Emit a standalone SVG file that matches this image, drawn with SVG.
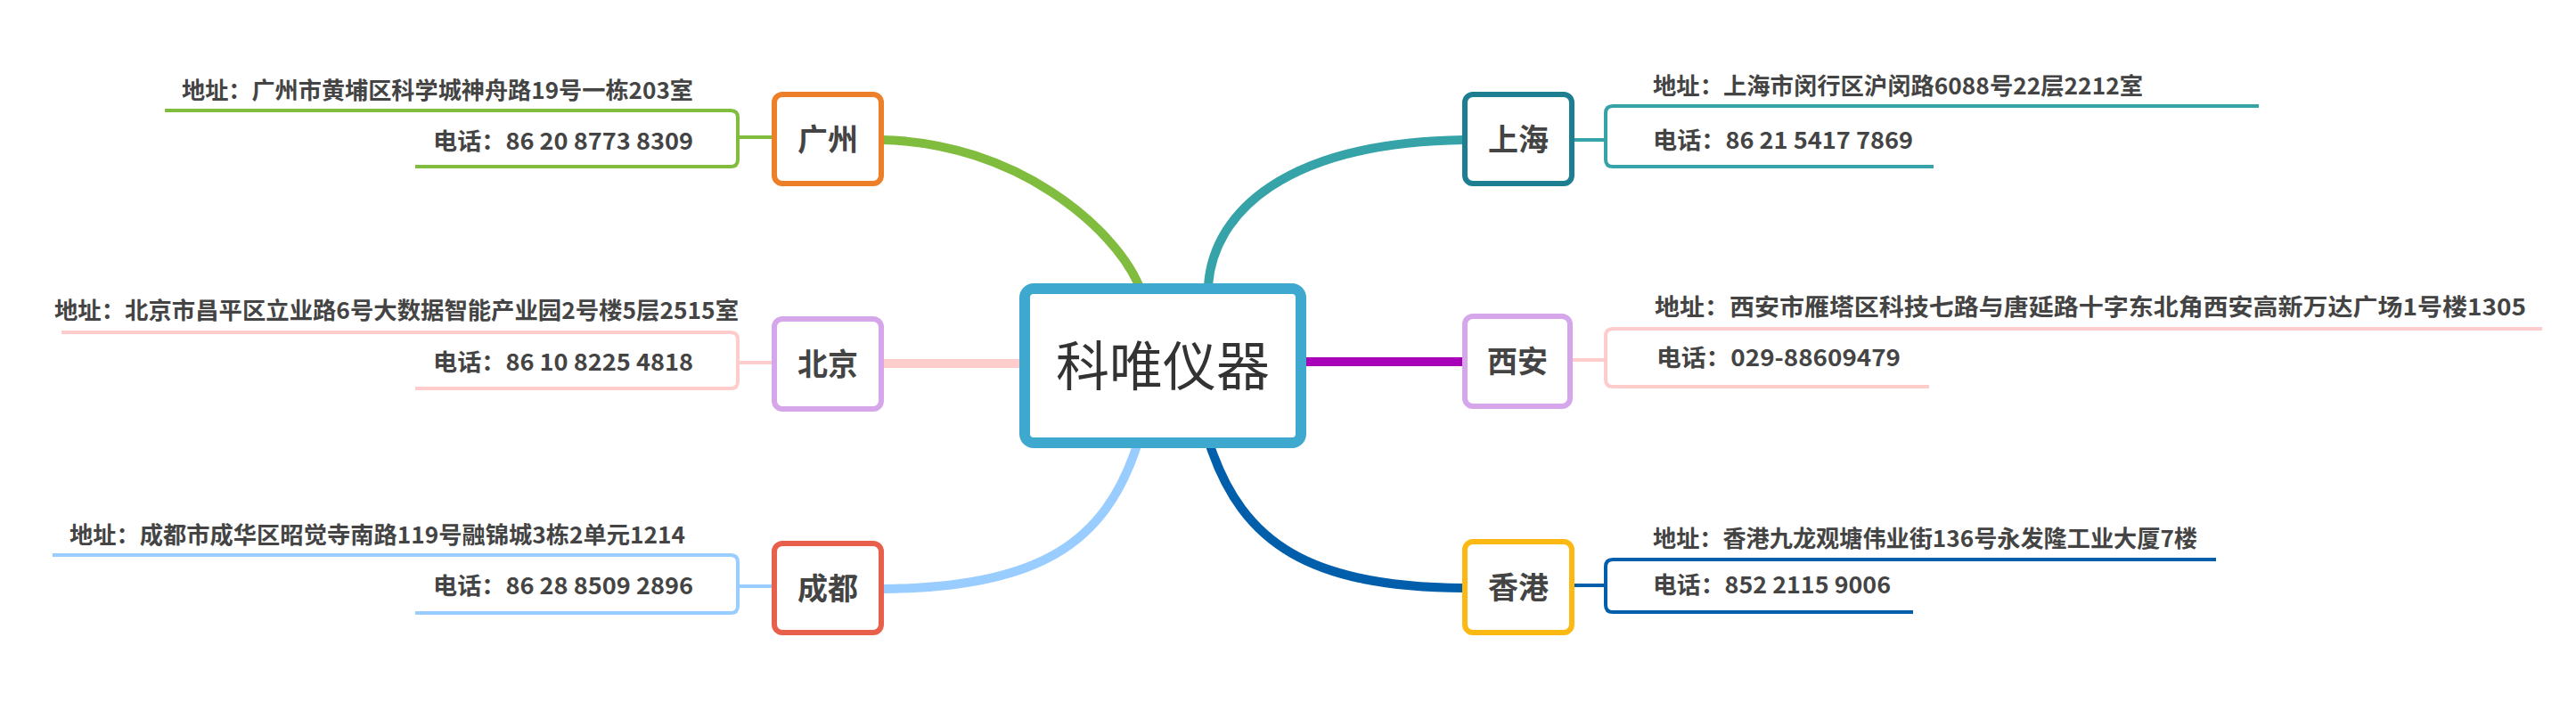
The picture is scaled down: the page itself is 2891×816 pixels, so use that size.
<svg xmlns="http://www.w3.org/2000/svg" width="2891" height="816" viewBox="0 0 2891 816">
<style>
.bg{fill:#ffffff}
.curve{fill:none;stroke-width:10;stroke-linecap:butt}
.br{fill:none;stroke-width:4;stroke-linecap:butt;stroke-linejoin:round}
.lk{fill:none;stroke-width:4}
.node{fill:#ffffff;stroke-width:6}
.ntext{font-family:"Noto Sans CJK SC","Microsoft YaHei",sans-serif;font-weight:700;font-size:34px;fill:#444444;text-anchor:middle}
.t{font-family:"Noto Sans CJK SC","Microsoft YaHei",sans-serif;font-weight:700;font-size:26px;fill:#444444}
.root{fill:#ffffff;stroke:#3EA8CF;stroke-width:12}
.rtext{font-family:"Noto Sans CJK SC","Microsoft YaHei",sans-serif;font-weight:400;font-size:60px;fill:#333333;text-anchor:middle}
</style>
<rect class="bg" x="0" y="0" width="2891" height="816"/>
<g id="connectors">
  <!-- main branches -->
  <path class="curve" stroke="#80BD3F" d="M1278 320 C1250 255 1140 160 990 157"/>
  <path class="curve" stroke="#35A3A8" d="M1356 320 C1362 240 1440 160 1643 157"/>
  <path class="curve" stroke="#FFCCCC" d="M1146 408 H990"/>
  <path class="curve" stroke="#A800B8" d="M1464 406 H1643"/>
  <path class="curve" stroke="#99CCFF" d="M1276 500 C1240 610 1165 660 990 661"/>
  <path class="curve" stroke="#005EAA" d="M1358 500 C1395 610 1470 659 1643 660"/>
  <!-- Guangzhou -->
  <path class="lk" stroke="#80BD3F" d="M828 154 H868"/>
  <path class="br" stroke="#80BD3F" d="M185 124 H820 Q828 124 828 132 V179 Q828 187 820 187 H466"/>
  <!-- Beijing -->
  <path class="lk" stroke="#FFCCCC" d="M828 407 H868"/>
  <path class="br" stroke="#FFCCCC" d="M69 373 H820 Q828 373 828 381 V428 Q828 436 820 436 H466"/>
  <!-- Chengdu -->
  <path class="lk" stroke="#99CCFF" d="M828 658 H868"/>
  <path class="br" stroke="#99CCFF" d="M59 623 H820 Q828 623 828 631 V680 Q828 688 820 688 H466"/>
  <!-- Shanghai -->
  <path class="lk" stroke="#35A3A8" d="M1765 157 H1802"/>
  <path class="br" stroke="#35A3A8" d="M2535 119 H1810 Q1802 119 1802 127 V179 Q1802 187 1810 187 H2170"/>
  <!-- Xi'an -->
  <path class="lk" stroke="#FFCCCC" d="M1765 404 H1802"/>
  <path class="br" stroke="#FFCCCC" d="M2853 369 H1810 Q1802 369 1802 377 V426 Q1802 434 1810 434 H2165"/>
  <!-- Hong Kong -->
  <path class="lk" stroke="#005EAA" d="M1765 657 H1802"/>
  <path class="br" stroke="#005EAA" d="M2487 628 H1810 Q1802 628 1802 636 V679 Q1802 687 1810 687 H2147"/>
</g>
<g id="root">
  <rect class="root" x="1150" y="324" width="310" height="173" rx="10"/>
  <text class="rtext" x="1305" y="433">科唯仪器</text>
</g>
<g id="node-guangzhou">
  <rect class="node" stroke="#EC7F27" x="869" y="106" width="120" height="100" rx="9"/>
  <text class="ntext" x="929" y="169">广州</text>
</g>
<g id="node-beijing">
  <rect class="node" stroke="#D6A6EA" x="869" y="358" width="120" height="101" rx="9"/>
  <text class="ntext" x="929" y="421">北京</text>
</g>
<g id="node-chengdu">
  <rect class="node" stroke="#E8604C" x="869" y="610" width="120" height="100" rx="9"/>
  <text class="ntext" x="929" y="673">成都</text>
</g>
<g id="node-shanghai">
  <rect class="node" stroke="#1D7E92" x="1644" y="106" width="120" height="100" rx="9"/>
  <text class="ntext" x="1704" y="169">上海</text>
</g>
<g id="node-xian">
  <rect class="node" stroke="#D6A6EA" x="1644" y="355" width="118" height="101" rx="9"/>
  <text class="ntext" x="1703" y="418">西安</text>
</g>
<g id="node-hongkong">
  <rect class="node" stroke="#FDB913" x="1644" y="608" width="120" height="102" rx="9"/>
  <text class="ntext" x="1704" y="672">香港</text>
</g>
<g id="gz-addr"><text class="t" x="204" y="111" textLength="574" lengthAdjust="spacingAndGlyphs">地址：广州市黄埔区科学城神舟路19号一栋203室</text></g>
<g id="gz-tel"><text class="t" x="486" y="168" textLength="292" lengthAdjust="spacingAndGlyphs">电话：86 20 8773 8309</text></g>
<g id="bj-addr"><text class="t" x="61" y="358" textLength="768" lengthAdjust="spacingAndGlyphs">地址：北京市昌平区立业路6号大数据智能产业园2号楼5层2515室</text></g>
<g id="bj-tel"><text class="t" x="486" y="416" textLength="292" lengthAdjust="spacingAndGlyphs">电话：86 10 8225 4818</text></g>
<g id="cd-addr"><text class="t" x="78" y="610" textLength="691" lengthAdjust="spacingAndGlyphs">地址：成都市成华区昭觉寺南路119号融锦城3栋2单元1214</text></g>
<g id="cd-tel"><text class="t" x="486" y="667" textLength="292" lengthAdjust="spacingAndGlyphs">电话：86 28 8509 2896</text></g>
<g id="sh-addr"><text class="t" x="1855" y="106" textLength="550" lengthAdjust="spacingAndGlyphs">地址：上海市闵行区沪闵路6088号22层2212室</text></g>
<g id="sh-tel"><text class="t" x="1855" y="167" textLength="292" lengthAdjust="spacingAndGlyphs">电话：86 21 5417 7869</text></g>
<g id="xa-addr"><text class="t" x="1857" y="354" textLength="978" lengthAdjust="spacingAndGlyphs">地址：西安市雁塔区科技七路与唐延路十字东北角西安高新万达广场1号楼1305</text></g>
<g id="xa-tel"><text class="t" x="1859" y="411" textLength="274" lengthAdjust="spacingAndGlyphs">电话：029-88609479</text></g>
<g id="hk-addr"><text class="t" x="1855" y="614" textLength="611" lengthAdjust="spacingAndGlyphs">地址：香港九龙观塘伟业街136号永发隆工业大厦7楼</text></g>
<g id="hk-tel"><text class="t" x="1855" y="666" textLength="267" lengthAdjust="spacingAndGlyphs">电话：852 2115 9006</text></g>
</svg>
